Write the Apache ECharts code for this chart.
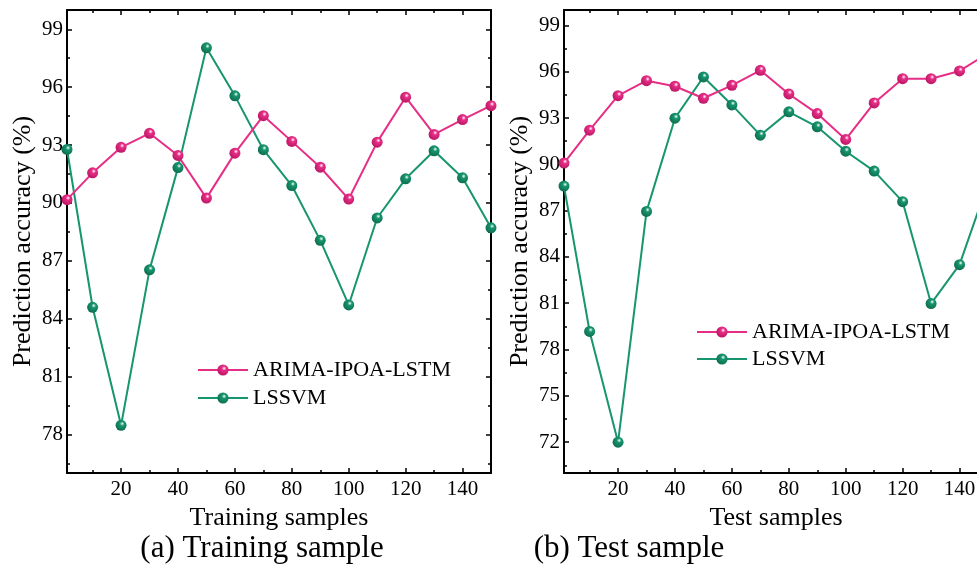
<!DOCTYPE html>
<html>
<head>
<meta charset="utf-8">
<script src="https://cdn.jsdelivr.net/npm/echarts@6/dist/echarts.min.js"></script>
<style>html,body{margin:0;padding:0;background:#fff;}#c{width:977px;height:567px;}</style>
</head>
<body>
<div id="c"></div>
<script>
// ---- data ----
var samples = [1, 10, 20, 30, 40, 50, 60, 70, 80, 90, 100, 110, 120, 130, 140, 150];
var trainArima = [90.17, 91.56, 92.88, 93.61, 92.46, 90.25, 92.58, 94.52, 93.19, 91.85, 90.2, 93.15, 95.48, 93.55, 94.32, 95.04];
var trainLssvm = [92.77, 84.59, 78.47, 86.53, 91.83, 98.04, 95.55, 92.76, 90.9, 88.06, 84.71, 89.22, 91.25, 92.7, 91.3, 88.71];
var testArima = [90.08, 92.21, 94.45, 95.42, 95.06, 94.28, 95.12, 96.09, 94.56, 93.29, 91.61, 93.98, 95.55, 95.55, 96.05, 97.2];
var testLssvm = [88.59, 79.17, 72.0, 86.95, 92.99, 95.66, 93.85, 91.89, 93.4, 92.43, 90.85, 89.56, 87.58, 80.98, 83.5, 88.8];
var xMajor = [20, 40, 60, 80, 100, 120, 140];
var xMinor = [10, 30, 50, 70, 90, 110, 130];
var yMajorTrain = [78, 81, 84, 87, 90, 93, 96, 99];
var yMinorTrain = [76.5, 79.5, 82.5, 85.5, 88.5, 91.5, 94.5, 97.5];
var yMajorTest = [72, 75, 78, 81, 84, 87, 90, 93, 96, 99];
var yMinorTest = [70.5, 73.5, 76.5, 79.5, 82.5, 85.5, 88.5, 91.5, 94.5, 97.5];
var seriesNames = ['ARIMA-IPOA-LSTM', 'LSSVM'];
var xNames = ['Training samples', 'Test samples'];
var yName = 'Prediction accuracy (%)';
var captions = ['(a) Training sample', '(b) Test sample'];

// ---- styling ----
var FONT = 'Liberation Serif';
var PINK = '#E62E86', PINK_D = '#B81463';
var GREEN = '#17956E', GREEN_D = '#0C6A4C';
function sphere(c, d) {
  return { type: 'radial', x: 0.6, y: 0.35, r: 0.7,
    colorStops: [{offset: 0, color: '#ffffff'}, {offset: 0.28, color: c}, {offset: 1, color: d}] };
}
function pair(xs, ys) { return xs.map(function (x, i) { return [x, ys[i]]; }); }

var grids = [
  { left: 67, top: 10, width: 424, height: 463, containLabel: false, outerBoundsMode: 'none' },
  { left: 564, top: 10, width: 424, height: 463, containLabel: false, outerBoundsMode: 'none' }
];
var yRanges = [[76, 100], [70, 100]];
var yTicks = [[yMajorTrain, yMinorTrain], [yMajorTest, yMinorTest]];

var xAxes = [], yAxes = [], series = [];
grids.forEach(function (g, gi) {
  var line = { show: true, onZero: false, lineStyle: { color: '#000', width: 2 } };
  var base = { type: 'value', gridIndex: gi, min: 1, max: 150, splitLine: { show: false } };
  xAxes.push(Object.assign({}, base, {
    position: 'bottom', axisLine: line,
    axisTick: { show: true, inside: true, length: 5, customValues: xMajor, lineStyle: { color: '#000', width: 1.5 } },
    axisLabel: { show: true, customValues: xMajor, color: '#000', fontFamily: FONT, fontSize: 21, margin: 6 },
    name: xNames[gi], nameLocation: 'middle', nameGap: 24,
    nameTextStyle: { color: '#000', fontFamily: FONT, fontSize: 26 }
  }));
  xAxes.push(Object.assign({}, base, {
    position: 'bottom', axisLine: { show: false },
    axisTick: { show: true, inside: true, length: 3, customValues: xMinor, lineStyle: { color: '#000', width: 1.5 } },
    axisLabel: { show: false }
  }));
  xAxes.push(Object.assign({}, base, {
    position: 'top', axisLine: line,
    axisTick: { show: true, inside: true, length: 5, customValues: xMajor, lineStyle: { color: '#000', width: 1.5 } },
    axisLabel: { show: false }
  }));
  xAxes.push(Object.assign({}, base, {
    position: 'top', axisLine: { show: false },
    axisTick: { show: true, inside: true, length: 3, customValues: xMinor, lineStyle: { color: '#000', width: 1.5 } },
    axisLabel: { show: false }
  }));
  var ybase = { type: 'value', gridIndex: gi, min: yRanges[gi][0], max: yRanges[gi][1], splitLine: { show: false } };
  yAxes.push(Object.assign({}, ybase, {
    position: 'left', axisLine: line,
    axisTick: { show: true, inside: true, length: 5, customValues: yTicks[gi][0], lineStyle: { color: '#000', width: 1.5 } },
    axisLabel: { show: true, customValues: yTicks[gi][0], color: '#000', fontFamily: FONT, fontSize: 21, margin: 4 },
    name: yName, nameLocation: 'middle', nameGap: 31, nameRotate: 90,
    nameTextStyle: { color: '#000', fontFamily: FONT, fontSize: 26 }
  }));
  yAxes.push(Object.assign({}, ybase, {
    position: 'left', axisLine: { show: false },
    axisTick: { show: true, inside: true, length: 3, customValues: yTicks[gi][1], lineStyle: { color: '#000', width: 1.5 } },
    axisLabel: { show: false }
  }));
  yAxes.push(Object.assign({}, ybase, {
    position: 'right', axisLine: line,
    axisTick: { show: true, inside: true, length: 5, customValues: yTicks[gi][0], lineStyle: { color: '#000', width: 1.5 } },
    axisLabel: { show: false }
  }));
  yAxes.push(Object.assign({}, ybase, {
    position: 'right', axisLine: { show: false },
    axisTick: { show: true, inside: true, length: 3, customValues: yTicks[gi][1], lineStyle: { color: '#000', width: 1.5 } },
    axisLabel: { show: false }
  }));
});

var dataSets = [[trainArima, trainLssvm], [testArima, testLssvm]];
var cols = [[PINK, PINK_D], [GREEN, GREEN_D]];
dataSets.forEach(function (ds, gi) {
  ds.forEach(function (vals, si) {
    series.push({
      type: 'line', name: seriesNames[si], xAxisIndex: gi * 4, yAxisIndex: gi * 4,
      data: pair(samples, vals), symbol: 'circle', symbolSize: 11, showSymbol: true,
      lineStyle: { color: cols[si][0], width: 2 },
      itemStyle: { color: sphere(cols[si][0], cols[si][1]) },
      z: si === 0 ? 3 : 2, animation: false
    });
  });
});

var legendBase = {
  orient: 'vertical', itemWidth: 50, itemHeight: 14, itemGap: 6,
  textStyle: { color: '#000', fontFamily: FONT, fontSize: 22 },
  data: seriesNames, selectedMode: false
};

var chart = echarts.init(document.getElementById('c'), null, { renderer: 'canvas' });
chart.setOption({
  backgroundColor: '#fff',
  animation: false,
  grid: grids,
  xAxis: xAxes,
  yAxis: yAxes,
  series: series,
  legend: [
    Object.assign({}, legendBase, { left: 192, top: 354 }),
    Object.assign({}, legendBase, { left: 691, top: 316, itemGap: 5 })
  ],
  graphic: [
    { type: 'text', x: 262, y: 549, style: { text: captions[0], fill: '#000', font: '31px "Liberation Serif"', textAlign: 'center', textVerticalAlign: 'middle' } },
    { type: 'text', x: 629, y: 549, style: { text: captions[1], fill: '#000', font: '31px "Liberation Serif"', textAlign: 'center', textVerticalAlign: 'middle' } }
  ]
});
</script>
</body>
</html>
